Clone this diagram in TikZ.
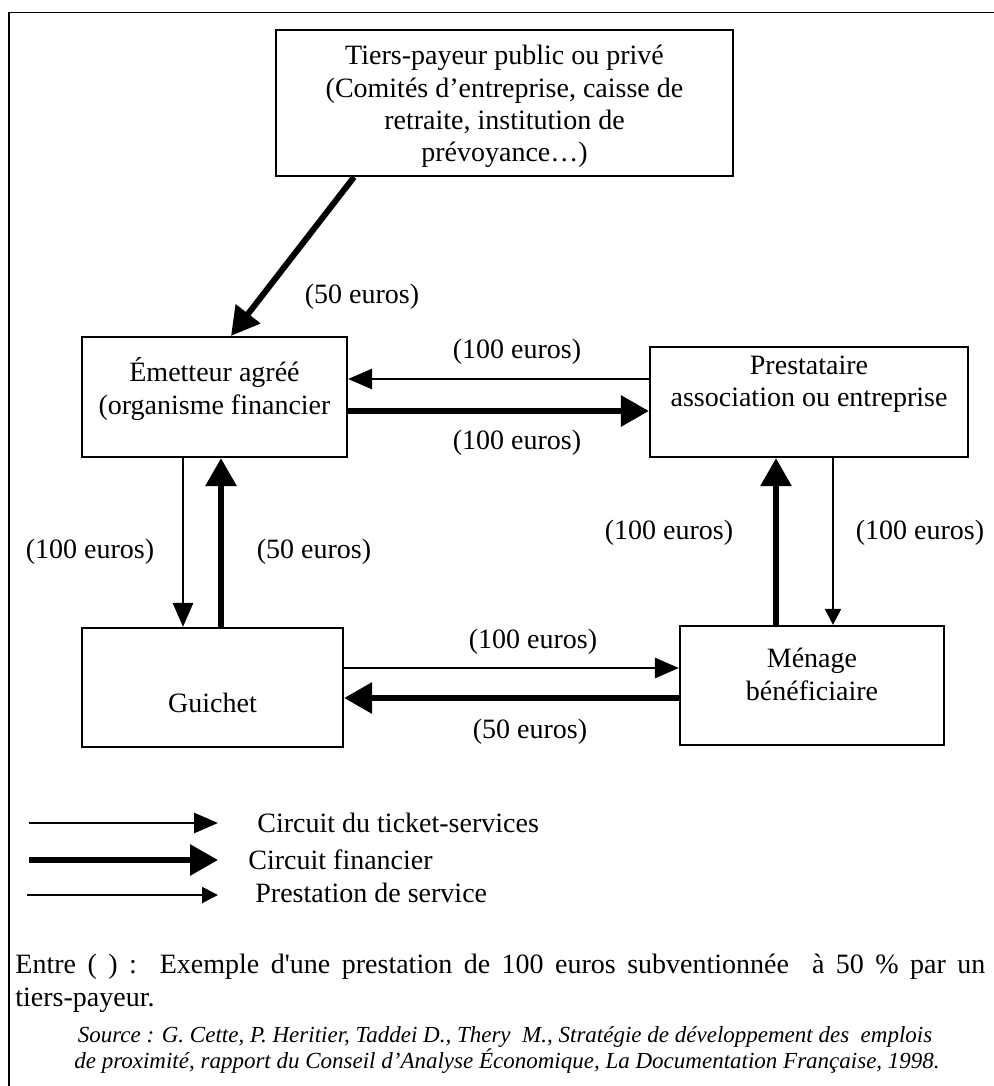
\documentclass[tikz,border=0pt]{standalone}
\usepackage{fontspec}
\setmainfont{Liberation Serif}
\usetikzlibrary{arrows.meta}
\begin{document}
\begin{tikzpicture}[x=0.5pt,y=-0.5pt,
  box/.style={draw,line width=1.1pt,inner sep=0pt},
  txt/.style={align=center,font=\fontsize{14pt}{16.2pt}\selectfont,inner sep=0pt},
  lbl/.style={font=\fontsize{14pt}{16pt}\selectfont,inner sep=0pt},
  srcstyle/.style={font=\fontsize{11.5pt}{12pt}\selectfont\itshape,inner sep=0pt},
  tk/.style={line width=1.4pt,-{Triangle[length=12pt,width=10pt]}},
  fin/.style={line width=3pt,-{Triangle[length=14pt,width=15pt]}},
  pst/.style={line width=1pt,-{Triangle[length=8pt,width=8pt]}},
  framestyle/.style={line width=0.7pt}]
\useasboundingbox[fill=white] (0,0) rectangle (993,1086);
\draw[framestyle] (9,1100) -- (9,12.5) -- (1010,12.5);

% boxes
\node[box,minimum width=228.5pt,minimum height=73pt] (tiers) at (504.5,103) {};
\node[box,minimum width=132.5pt,minimum height=60pt] (emet) at (214.5,397) {};
\node[box,minimum width=159pt,minimum height=55pt] (pres) at (809,402) {};
\node[box,minimum width=130.5pt,minimum height=59.5pt] (guich) at (212.5,687.5) {};
\node[box,minimum width=132pt,minimum height=59.5pt] (men) at (812,685.5) {};

% box texts
\node[txt] (tiersT) at (504.5,106.5) {Tiers-payeur public ou privé\\(Comités d’entreprise, caisse de\\retraite, institution de\\prévoyance…)};
\node[txt] (emetT) at (214.5,389) {Émetteur agréé\\(organisme financier};
\node[txt] (presT) at (809,384) {Prestataire\\association ou entreprise};
\node[txt] (menT) at (812,674.5) {Ménage\\bénéficiaire};
\node[txt] (guichT) at (212.5,703) {Guichet};

% connectors
\draw[fin] (tiers.south -| 354,0) -- (emet.north -| 231,0);
\draw[tk] (pres.west |- 0,379) -- (emet.east |- 0,379);
\draw[fin] (emet.east |- 0,411) -- (pres.west |- 0,411);
\draw[tk] (emet.south -| 183,0) -- (guich.north -| 183,0);
\draw[fin] (guich.north -| 221,0) -- (emet.south -| 221,0);
\draw[fin] (men.north -| 776,0) -- (pres.south -| 776,0);
\draw[pst] (pres.south -| 833,0) -- (men.north -| 833,0);
\draw[tk] (guich.east |- 0,668) -- (men.west |- 0,668);
\draw[fin] (men.west |- 0,698) -- (guich.east |- 0,698);

% labels
\node[lbl] (l1) at (362,297) {(50 euros)};
\node[lbl] (l2) at (517,352) {(100 euros)};
\node[lbl] (l3) at (517,443) {(100 euros)};
\node[lbl] (l4) at (90,552) {(100 euros)};
\node[lbl] (l5) at (314,552) {(50 euros)};
\node[lbl] (l6) at (669,533) {(100 euros)};
\node[lbl] (l7) at (920,533) {(100 euros)};
\node[lbl] (l8) at (533,642) {(100 euros)};
\node[lbl] (l9) at (530,732) {(50 euros)};

% legend
\coordinate (g1a) at (29,823); \coordinate (g1b) at (218,823);
\coordinate (g2a) at (29,860); \coordinate (g2b) at (218,860);
\coordinate (g3a) at (27,895); \coordinate (g3b) at (218,895);
\draw[tk] (g1a) -- (g1b);
\draw[fin] (g2a) -- (g2b);
\draw[pst] (g3a) -- (g3b);
\node[lbl,anchor=west] (g1t) at (257,823) {Circuit du ticket-services};
\node[lbl,anchor=west] (g2t) at (248,860) {Circuit financier};
\node[lbl,anchor=west] (g3t) at (255,893) {Prestation de service};

% note and source
\node[lbl,anchor=west] (note1) at (15,967) {\makebox[485pt][s]{Entre ( ) :\ \ Exemple d\textquotesingle une prestation de 100 euros subventionnée\ \ à 50 \% par un}};
\node[lbl,anchor=west] (note2) at (15,1000) {tiers-payeur.};
\node[srcstyle] (src1) at (505,1037) {Source : G. Cette, P. Heritier, Taddei D., Thery\ \ M., Stratégie de développement des\ \ emplois};
\node[srcstyle] (src2) at (507,1061) {de proximité, rapport du Conseil d’Analyse Économique, La Documentation Française, 1998.};
\end{tikzpicture}
\end{document}
